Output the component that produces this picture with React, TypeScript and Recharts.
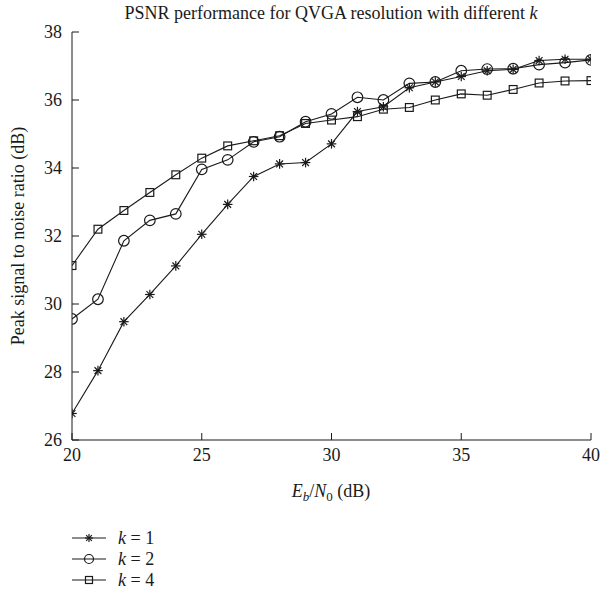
import { LineChart, Line, XAxis, YAxis } from "recharts";

// Eb/N0 sweep (dB)
const ebn0 = [20, 21, 22, 23, 24, 25, 26, 27, 28, 29, 30, 31, 32, 33, 34, 35, 36, 37, 38, 39, 40];

// PSNR (dB) per reordering factor k
const psnrK1 = [26.78, 28.04, 29.48, 30.28, 31.12, 32.05, 32.93, 33.75, 34.12, 34.16, 34.71, 35.66, 35.8, 36.36, 36.53, 36.69, 36.86, 36.9, 37.16, 37.2, 37.2];
const psnrK2 = [29.56, 30.14, 31.86, 32.46, 32.65, 33.96, 34.24, 34.77, 34.92, 35.36, 35.59, 36.08, 36.0, 36.49, 36.53, 36.86, 36.91, 36.92, 37.04, 37.1, 37.18];
const psnrK4 = [31.13, 32.2, 32.75, 33.28, 33.8, 34.29, 34.65, 34.8, 34.95, 35.31, 35.41, 35.51, 35.73, 35.78, 36.0, 36.18, 36.14, 36.31, 36.5, 36.56, 36.57];

const xTicks = [20, 25, 30, 35, 40];
const yTicks = [26, 28, 30, 32, 34, 36, 38];

const legendLabels = ["1", "2", "4"];

const rows = ebn0.map((x, i) => ({ x, k1: psnrK1[i], k2: psnrK2[i], k4: psnrK4[i] }));

const INK = "#1a1a1a";
const FONT = "'Liberation Serif', 'DejaVu Serif', serif";

function StarMark({ cx, cy, r = 4.8 }: { cx: number; cy: number; r?: number }) {
  const d = r * 0.7071;
  return (
    <g stroke={INK} strokeWidth={1.2}>
      <line x1={cx - r} y1={cy} x2={cx + r} y2={cy} />
      <line x1={cx} y1={cy - r} x2={cx} y2={cy + r} />
      <line x1={cx - d} y1={cy - d} x2={cx + d} y2={cy + d} />
      <line x1={cx - d} y1={cy + d} x2={cx + d} y2={cy - d} />
    </g>
  );
}

function CircleMark({ cx, cy, r = 5.3 }: { cx: number; cy: number; r?: number }) {
  return <circle cx={cx} cy={cy} r={r} fill="none" stroke={INK} strokeWidth={1.2} />;
}

function SquareMark({ cx, cy, r = 3.9 }: { cx: number; cy: number; r?: number }) {
  return <rect x={cx - r} y={cy - r} width={2 * r} height={2 * r} fill="none" stroke={INK} strokeWidth={1.2} />;
}

const markers = [StarMark, CircleMark, SquareMark];
const keys = ["k1", "k2", "k4"];

export default function App() {
  const tickStyle = { fill: INK, fontSize: 18, fontFamily: FONT };
  return (
    <div style={{ position: "absolute", left: 0, top: 0, width: 602, height: 602, background: "#fff" }}>
      <LineChart
        width={602}
        height={602}
        data={rows}
        margin={{ top: 32, right: 11, left: 12, bottom: 132 }}
      >
        <XAxis
          dataKey="x"
          type="number"
          domain={[20, 40]}
          ticks={xTicks}
          allowDataOverflow
          height={30}
          tickSize={-7}
          tickMargin={15}
          stroke={INK}
          tick={tickStyle}
        />
        <XAxis
          xAxisId="top"
          orientation="top"
          dataKey="x"
          type="number"
          domain={[20, 40]}
          ticks={xTicks}
          allowDataOverflow
          height={0}
          tickSize={-7}
          tick={false}
          stroke={INK}
        />
        <YAxis
          type="number"
          domain={[26, 38]}
          ticks={yTicks}
          allowDataOverflow
          width={60}
          tickSize={-7}
          tickMargin={17}
          stroke={INK}
          tick={tickStyle}
        />
        <YAxis
          yAxisId="right"
          orientation="right"
          type="number"
          domain={[26, 38]}
          ticks={yTicks}
          allowDataOverflow
          width={0}
          tickSize={-7}
          tick={false}
          stroke={INK}
        />
        {keys.map((k, i) => {
          const Mark = markers[i];
          return (
            <Line
              key={k}
              dataKey={k}
              type="linear"
              stroke={INK}
              strokeWidth={1.1}
              isAnimationActive={false}
              dot={(p: any) => <Mark key={`${k}-${p.index}`} cx={p.cx} cy={p.cy} />}
            />
          );
        })}
      </LineChart>
      <svg
        width={602}
        height={602}
        style={{ position: "absolute", left: 0, top: 0, pointerEvents: "none" }}
        fontFamily={FONT}
        fill={INK}
      >
        <text x={331} y={19} fontSize={18} textAnchor="middle">
          PSNR performance for QVGA resolution with different <tspan fontStyle="italic">k</tspan>
        </text>
        <text x={331} y={497} fontSize={18} textAnchor="middle">
          <tspan fontStyle="italic">E</tspan>
          <tspan fontStyle="italic" fontSize={13} dy={4}>b</tspan>
          <tspan dy={-4}>/</tspan>
          <tspan fontStyle="italic">N</tspan>
          <tspan fontSize={13} dy={4}>0</tspan>
          <tspan dy={-4}> (dB)</tspan>
        </text>
        <text x={0} y={0} fontSize={18} textAnchor="middle" transform="translate(24 236) rotate(-90)">
          Peak signal to noise ratio (dB)
        </text>
        {legendLabels.map((lab, i) => {
          const Mark = markers[i];
          const y = 538 + i * 21;
          return (
            <g key={lab}>
              <line x1={72} y1={y} x2={106} y2={y} stroke={INK} strokeWidth={1.1} />
              <Mark cx={89} cy={y} r={i === 0 ? 4 : i === 1 ? 4.5 : 3.5} />
              <text x={118} y={y + 6} fontSize={18}>
                <tspan fontStyle="italic">k</tspan> = {lab}
              </text>
            </g>
          );
        })}
      </svg>
    </div>
  );
}
